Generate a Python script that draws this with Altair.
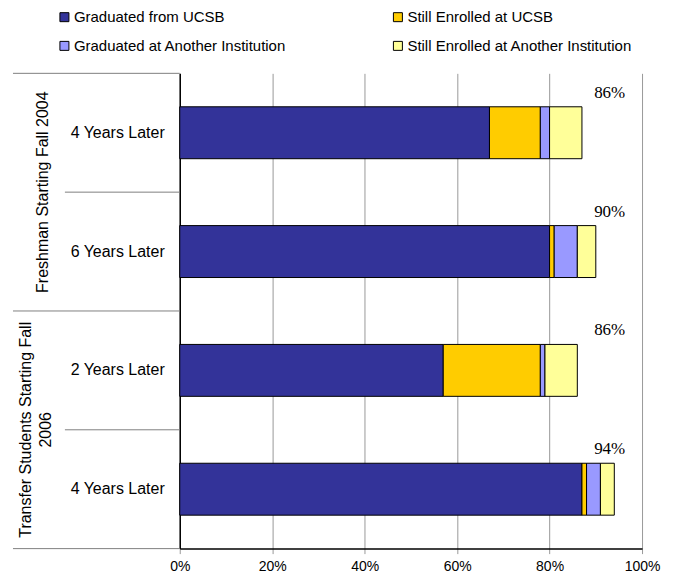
import altair as alt
import pandas as pd

# ---- data ----
row_keys = ["F4", "F6", "T2", "T4"]
row_labels = ["4 Years Later", "6 Years Later", "2 Years Later", "4 Years Later"]
group_keys = ["F4", "T2"]
group_labels = ["Freshman Starting Fall 2004", "Transfer Students Starting Fall\n2006"]
series = ["Graduated from UCSB", "Still Enrolled at UCSB",
          "Graduated at Another Institution", "Still Enrolled at Another Institution"]
grad_ucsb = [67, 80, 57, 87]
enrolled_ucsb = [11, 1, 21, 1]
grad_other = [2, 5, 1, 3]
enrolled_other = [7, 4, 7, 3]
total_labels = ["86%", "90%", "86%", "94%"]
colors = ["#333399", "#FFCC00", "#9999FF", "#FFFF99"]
x_ticks = [0, 0.2, 0.4, 0.6, 0.8, 1.0]

records = []
for i, k in enumerate(row_keys):
    for j, (s, vals) in enumerate(zip(series, [grad_ucsb, enrolled_ucsb, grad_other, enrolled_other])):
        records.append({"key": k, "series": s, "value": vals[i] / 100, "order": j})
bars_df = pd.DataFrame(records)
rows_df = pd.DataFrame({"key": row_keys, "label": row_labels, "total": total_labels})
groups_df = pd.DataFrame({"key": group_keys, "label": group_labels})

# legend is filled column by column: put the series in that order
legend_order = [series[0], series[2], series[1], series[3]]
legend_colors = [colors[0], colors[2], colors[1], colors[3]]

SANS = "Liberation Sans, Arial, sans-serif"
SERIF = "'Times New Roman', 'Liberation Serif', 'DejaVu Serif', serif"
W, H = 463, 476

yscale = alt.Scale(domain=row_keys, paddingInner=0, paddingOuter=0)

bars = alt.Chart(bars_df).mark_bar(size=52, stroke="black", strokeWidth=1).encode(
    x=alt.X("value:Q", stack="zero", title=None,
            scale=alt.Scale(domain=[0, 1], nice=False),
            axis=alt.Axis(format="%", values=x_ticks, grid=True, gridColor="#999999",
                          domainColor="black", domainWidth=1.5, tickColor="#999999", tickSize=5,
                          labelFont=SANS, labelFontSize=14, labelColor="black",
                          labelPadding=6, labelFlush=False)),
    y=alt.Y("key:N", scale=yscale, sort=row_keys, title=None,
            axis=alt.Axis(labels=False, ticks=False, grid=False,
                          domainColor="black", domainWidth=1.5)),
    color=alt.Color("series:N",
                    scale=alt.Scale(domain=legend_order, range=legend_colors),
                    legend=alt.Legend(title=None, orient="none", legendX=-123, legendY=-64,
                                      columns=2, columnPadding=104, rowPadding=13,
                                      symbolType="square", symbolSize=81,
                                      symbolStrokeColor="black", symbolStrokeWidth=1,
                                      labelFont=SANS, labelFontSize=15, labelColor="black",
                                      labelOffset=2, labelLimit=0)),
    order=alt.Order("order:Q"),
)

totals = alt.Chart(rows_df).mark_text(font=SERIF, fontSize=17, color="black", dy=-40).encode(
    x=alt.X(datum=0.93),
    y=alt.Y("key:N", scale=yscale, sort=row_keys),
    text="total:N",
)

cat_labels = alt.Chart(rows_df).mark_text(font=SANS, fontSize=16, color="black",
                                          align="right", baseline="middle").encode(
    x=alt.value(-15),
    y=alt.Y("key:N", scale=yscale, sort=row_keys),
    text="label:N",
)

group_base = alt.Chart(groups_df).mark_text(font=SANS, fontSize=16, color="black", angle=270,
                                            align="center", baseline="middle",
                                            lineBreak="\n", lineHeight=20)
group_text1 = group_base.transform_filter(alt.datum.key == "F4").encode(
    x=alt.value(-137),
    y=alt.Y("key:N", scale=yscale, sort=row_keys, bandPosition=1),
    text="label:N",
)
group_text2 = group_base.transform_filter(alt.datum.key == "T2").encode(
    x=alt.value(-154),
    y=alt.Y("key:N", scale=yscale, sort=row_keys, bandPosition=1),
    text="label:N",
)

long_div = alt.Chart(pd.DataFrame({"key": ["F4", "T2"]})).mark_rule(color="#808080").encode(
    y=alt.Y("key:N", scale=yscale, sort=row_keys, bandPosition=0),
    x=alt.value(-167), x2=alt.value(0),
)
bottom_div = alt.Chart(pd.DataFrame({"key": ["T4"]})).mark_rule(color="#808080").encode(
    y=alt.Y("key:N", scale=yscale, sort=row_keys, bandPosition=1),
    x=alt.value(-167), x2=alt.value(0),
)
short_div = alt.Chart(pd.DataFrame({"key": ["F6", "T4"]})).mark_rule(color="#808080").encode(
    y=alt.Y("key:N", scale=yscale, sort=row_keys, bandPosition=0),
    x=alt.value(-115), x2=alt.value(0),
)

chart = alt.layer(long_div, bottom_div, short_div, bars, totals, cat_labels,
                  group_text1, group_text2).properties(
    width=W, height=H,
    autosize=alt.AutoSizeParams(type="none"),
    padding={"left": 172, "top": 65, "right": 24, "bottom": 30},
    background="white",
).configure_view(stroke=None)

chart.save("out.html", embed_options={"renderer": "svg", "actions": False})
